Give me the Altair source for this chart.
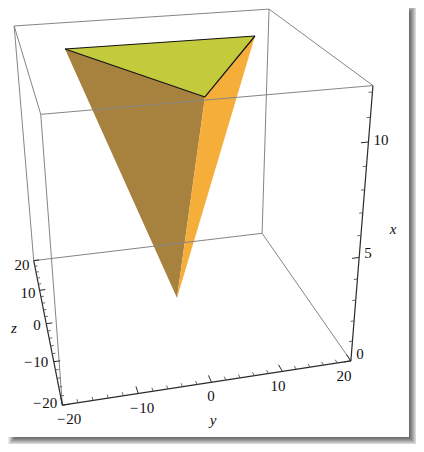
import numpy as np
import pandas as pd
import altair as alt

# ---- data (x, y, z) ----
XMAX = 12.25
apex = (0, 0.47, 2.34)
top_left = (12, -13.85, 8.49)
top_right = (12, 13.94, 8.11)
top_front = (12, -0.12, -16.61)
x_ticks = list(range(0, 13))
yz_ticks = list(range(-20, 21, 2))
x_major = [0, 5, 10]
yz_major = [-20, -10, 0, 10, 20]
x_labels = ["0", "5", "10"]
y_labels = ["\u2212\u200a20", "\u2212\u200a10", "0", "10", "20"]
z_labels = ["\u2212\u200a20", "\u2212\u200a10", "0", "10", "20"]

# ---- view: camera calibrated on the eight corners of the box ----
box_3d = [(0,-20,-20),(0,20,-20),(0,-20,20),(0,20,20),(XMAX,20,-20),(XMAX,-20,-20),(XMAX,-20,20),(XMAX,20,20)]
box_px = [(62,405),(351,361),(34,261),(262,233),(373,86),(41,114),(14,26),(269,9)]
rows=[]; rhs=[]
for (X,Y,Z),(u,v) in zip(box_3d,box_px):
    rows.append([X,Y,Z,1,0,0,0,0,-u*X,-u*Y,-u*Z]); rhs.append(u)
    rows.append([0,0,0,0,X,Y,Z,1,-v*X,-v*Y,-v*Z]); rhs.append(v)
sol=np.linalg.lstsq(np.array(rows,float),np.array(rhs,float),rcond=None)[0]
P=np.append(sol,1).reshape(3,4)
def proj(p):
    h=P@np.array([*p,1.0]); return (float(h[0]/h[2]),float(h[1]/h[2]))

# ---- chart frame, image pixels ----
W, H = 408, 436
sx = alt.Scale(domain=[8, 8+W], range=[0, W], nice=False, zero=False)
sy = alt.Scale(domain=[8, 8+H], range=[0, H], nice=False, zero=False)
X = lambda f="x": alt.X(f"{f}:Q", scale=sx, axis=None, title=None)
Y = lambda f="y": alt.Y(f"{f}:Q", scale=sy, axis=None, title=None)

def segs(pairs):
    out=[]
    for a,b in pairs:
        (x,y),(x2,y2)=proj(a),proj(b)
        out.append(dict(x=x,y=y,x2=x2,y2=y2))
    return pd.DataFrame(out)
def rule(pairs,color,width=1.0,opacity=1.0):
    return alt.Chart(segs(pairs)).mark_rule(color=color,strokeWidth=width,opacity=opacity).encode(
        x=X(),y=Y(),x2="x2:Q",y2="y2:Q")
def poly(verts,color,opacity=0.94):
    d=pd.DataFrame([dict(x=proj(v)[0],y=proj(v)[1],o=i) for i,v in enumerate(verts)])
    return alt.Chart(d).mark_line(interpolate="linear-closed",fill=color,fillOpacity=opacity,strokeWidth=0,stroke=None).encode(
        x=X(),y=Y(),order="o:Q")

# drop shadow: nested rectangles, light to dark, covered by the white page
shadow_greys = [236,216,196,176,156,138,122,110]
sh=[]
for i,g in enumerate(shadow_greys):
    sh.append(dict(x=8+i,x2=417-i,y=5+i,y2=445-i,c=f"rgb({g},{g},{g})",o=i))
shadow = alt.Chart(pd.DataFrame(sh)).mark_rect(strokeWidth=0).encode(
    x=X(),y=Y(),x2="x2:Q",y2="y2:Q",color=alt.Color("c:N",scale=None),order="o:Q")
page = alt.Chart(pd.DataFrame([dict(x=8,x2=409,y=8,y2=437)])).mark_rect(color="white",strokeWidth=0).encode(
    x=X(),y=Y(),x2="x2:Q",y2="y2:Q")

c000=(0,-20,-20); c0y=(0,20,-20); c0z=(0,-20,20); c0yz=(0,20,20)
cx=(XMAX,-20,-20); cxy=(XMAX,20,-20); cxz=(XMAX,-20,20); cxyz=(XMAX,20,20)
GREY="#858585"; INK="#2b2b2b"
box_edges = rule([(c0z,c0yz),(c0yz,c0y),(c0yz,cxyz),(c0z,cxz),(cxz,cxyz),(cxyz,cxy),(cxz,cx),(cx,c000),(cx,cxy)],GREY,1.0)
axes = rule([(c000,c0y),(c000,c0z),(c0y,cxy)],INK,1.2)

t_major=[]; t_minor=[]
for v in yz_ticks:
    m = v in yz_major
    (t_major if m else t_minor).append(((0,v,-20),(0,v,-20+(1.6 if m else 0.8))))
    (t_major if m else t_minor).append(((0,-20,v),(0,-20+(0.9 if m else 0.45),v)))
for v in x_ticks:
    m = v in x_major
    (t_major if m else t_minor).append(((v,20,-20),(v,20-(1.0 if m else 0.5),-20)))
ticks = rule(t_major,INK,1.0)+rule(t_minor,"#555555",0.9)

faces = [poly([top_left,top_front,apex],"#a27a32"),
         poly([top_front,top_right,apex],"#f5a92f"),
         poly([top_left,top_right,top_front],"#c3cb3c",1.0)]
black = rule([(top_left,top_right),(top_right,top_front),(top_front,top_left)],"#111111",1.2)

# tick labels and axis titles
lab = (
    [dict(x=a,y=b,t=t) for (a,b),t in zip([(360,354),(368,253),(381,140)],x_labels)]
  + [dict(x=a,y=b,t=t) for (a,b),t in zip([(69,419),(142,408),(211,396),(278,386),(344,376)],y_labels)]
  + [dict(x=a,y=b,t=t) for (a,b),t in zip([(45,403),(36,362),(37,325),(28,293),(22,265)],z_labels)]
)
labels = alt.Chart(pd.DataFrame(lab)).mark_text(font="Liberation Serif",fontSize=15,color="#111111",baseline="middle",align="center").encode(
    x=X(),y=Y(),text="t:N")
tit = pd.DataFrame([dict(x=393,y=229,t="x"),dict(x=213,y=420,t="y"),dict(x=14,y=328,t="z")])
titles = alt.Chart(tit).mark_text(font="Liberation Serif",fontSize=15,fontStyle="italic",color="#111111",baseline="middle",align="center").encode(
    x=X(),y=Y(),text="t:N")

chart = alt.layer(shadow,page,*faces,black,box_edges,axes,ticks,labels,titles).properties(
    width=W,height=H,padding=0,background="white",
    autosize=alt.AutoSizeParams(type="none"),
).configure_view(strokeWidth=0)
chart.save("out.html", embed_options={"renderer": "svg", "actions": False})
